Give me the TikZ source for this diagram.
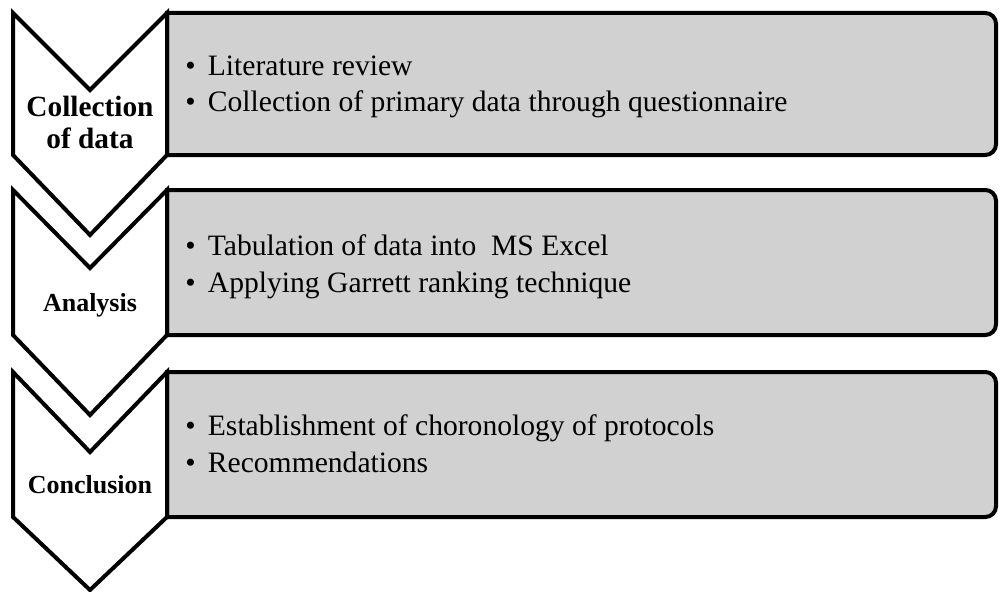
\documentclass[tikz,border=0pt]{standalone}
\usepackage{fontspec}
\setmainfont{Liberation Serif}
\usetikzlibrary{positioning}

\tikzset{
  chevron/.style={draw=black,fill=white,line width=3pt,line join=miter},
  panel/.style={draw=black,fill=black!18,line width=3pt},
  steplabel/.style={font=\fontsize{19.5}{24}\selectfont\bfseries,align=center,inner sep=0pt},
  item/.style={font=\fontsize{22.2}{27.75}\selectfont,anchor=base west,inner sep=0pt}
}
\newcommand{\bul}{\makebox[17pt][l]{\textbullet}}

\begin{document}
\begin{tikzpicture}[x=0.75pt,y=-0.75pt]
  \useasboundingbox (0,0) rectangle (1000,592);

  % panels
  \draw[panel] (167,155) -- (167,13) [rounded corners=8pt] -- (996,13) -- (996,155) [sharp corners] -- cycle;
  \draw[panel] (167,335) -- (167,190) [rounded corners=8pt] -- (996,190) -- (996,335) [sharp corners] -- cycle;
  \draw[panel] (167,517) -- (167,372) [rounded corners=8pt] -- (996,372) -- (996,517) [sharp corners] -- cycle;

  % chevrons
  \draw[chevron] (13,13) -- (90,90) -- (167,13) -- (167,155) -- (90,235) -- (13,155) -- cycle;
  \draw[chevron] (13,190) -- (90,268) -- (167,190) -- (167,335) -- (90,415) -- (13,335) -- cycle;
  \draw[chevron] (13,372) -- (90,452) -- (167,372) -- (167,517) -- (90,590) -- (13,517) -- cycle;

  \node[steplabel,font=\fontsize{22}{24}\selectfont\bfseries] (collect) at (90,122) {Collection\\of data};
  \node[steplabel] (analysis) at (90,305) {Analysis};
  \node[steplabel] (concl) at (90,485) {Conclusion};

  \node[item] (lit) at (185,75) {\bul Literature review};
  \node[item] (prim) at (185,112) {\bul Collection of primary data through questionnaire};

  \node[item] (tab) at (185,255) {\bul Tabulation of data into~ MS Excel};
  \node[item] (garrett) at (185,292) {\bul Applying Garrett ranking technique};

  \node[item] (chrono) at (185,435) {\bul Establishment of choronology of protocols};
  \node[item] (recom) at (185,472) {\bul Recommendations};
\end{tikzpicture}
\end{document}
